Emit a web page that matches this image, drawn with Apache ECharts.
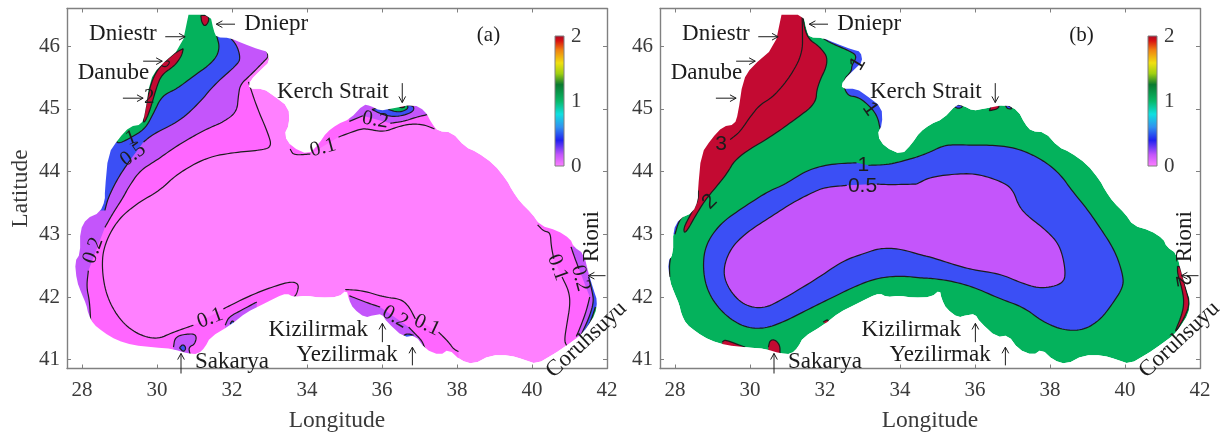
<!DOCTYPE html>
<html><head><meta charset="utf-8">
<style>html,body{margin:0;padding:0;background:#fff}#c{width:1220px;height:433px}</style>
<script src="https://cdn.jsdelivr.net/npm/echarts@6/dist/echarts.min.js"></script>
</head><body><div id="c"></div>
<script>
const xTicks=[28,30,32,34,36,38,40,42];
const yTicks=[41,42,43,44,45,46];
const barTicks=[0,1,2];
const barStops=[[0,'#ff80ff'],[0.18,'#c455fb'],[0.4,'#2020f0'],[0.6,'#3090f0'],[0.8,'#10e0e0'],[1.0,'#08b868'],[1.25,'#0a7a30'],[1.42,'#a0d010'],[1.58,'#f0e010'],[1.78,'#f08010'],[1.92,'#d81010'],[2,'#a80a28']];
const coast=[[30.84,46.5],[31.42,46.5],[31.51,46.25],[31.59,46.14],[31.95,46.13],[32.26,46.05],[32.75,45.94],[32.95,45.91],[33.0,45.75],[32.8,45.64],[32.48,45.45],[32.44,45.32],[32.84,45.32],[33.11,45.21],[33.51,45.03],[33.53,44.76],[33.39,44.58],[33.6,44.39],[34.04,44.27],[34.31,44.44],[34.53,44.63],[34.8,44.75],[35.15,44.84],[35.51,45.07],[35.69,45.05],[35.95,44.97],[36.22,45.0],[36.84,45.07],[37.15,44.97],[37.33,44.76],[37.51,44.64],[37.86,44.63],[38.22,44.39],[38.53,44.31],[38.98,44.12],[39.33,43.86],[39.47,43.7],[39.69,43.51],[40.0,43.33],[40.22,43.14],[40.67,43.06],[41.02,42.93],[41.11,42.8],[41.38,42.69],[41.51,42.37],[41.65,42.1],[41.74,41.94],[41.69,41.73],[41.47,41.52],[41.29,41.39],[40.93,41.23],[40.58,41.09],[40.13,40.93],[39.78,41.0],[39.42,41.07],[38.89,41.07],[38.44,40.93],[38.09,40.99],[37.78,41.17],[37.55,41.07],[37.15,41.17],[36.89,41.39],[36.58,41.36],[36.13,41.6],[36.0,41.73],[35.77,41.71],[35.55,41.67],[35.24,41.81],[35.11,41.97],[35.06,42.11],[34.84,42.0],[34.35,41.99],[33.99,42.02],[33.64,42.0],[33.46,42.06],[33.2,42.0],[32.75,41.86],[32.4,41.76],[31.95,41.55],[31.42,41.36],[31.28,41.2],[31.1,41.09],[30.79,41.1],[30.44,41.17],[29.9,41.2],[29.37,41.23],[28.93,41.31],[28.57,41.44],[28.3,41.57],[28.17,41.73],[28.11,41.89],[27.99,42.05],[27.86,42.26],[27.81,42.56],[27.95,42.69],[27.95,43.06],[28.12,43.25],[28.48,43.35],[28.61,43.54],[28.61,43.7],[28.7,44.28],[28.97,44.52],[29.28,44.72],[29.59,44.75],[29.68,44.92],[29.81,45.45],[30.04,45.67],[30.66,45.985]];

// panel (a) contours; null marks the gap left for a contour label
const a01West=[[32.44,45.43],[32.66,45.03],[32.97,44.6],[33.06,44.39],[32.75,44.34],[32.13,44.31],[31.33,44.23],[30.53,43.96],[30.08,43.7],[29.46,43.49],[28.93,43.22],[28.57,42.8],[28.53,42.42],[28.66,42.0],[29.01,41.63],[29.46,41.41],[29.99,41.32],[30.44,41.44],[30.97,41.55],null,[31.77,41.81],[32.4,42.0],[32.93,42.13],[33.55,42.25],[33.79,42.21],[33.73,42.05],[33.64,41.99]];
const a01South=[[35.02,42.12],[35.51,42.1],[36.04,42.0],[36.49,41.97],[36.71,41.86],[36.89,41.65],null,[37.51,41.44],[37.78,41.28],[37.91,41.17],[38.04,41.13]];
const a01East=[[40.15,43.15],[40.31,43.05],[40.49,43.03],[40.51,42.82],[40.58,42.61],null,[40.8,42.32],[40.98,42.1],[41.02,41.89],[40.93,41.57],[40.86,41.3],[40.93,41.22]];
const a01North=[[33.55,44.36],[33.64,44.26],[34.09,44.28],null,[34.84,44.55],[35.42,44.68],[35.6,44.68],[36.04,44.63],[36.4,44.71],[36.75,44.76],[37.11,44.75],[37.4,44.68]];
const a02West=[[32.93,45.92],[32.97,45.83],[32.84,45.75],[32.48,45.53],[32.22,45.39],[32.17,45.21],[32.13,44.95],[31.77,44.79],[31.33,44.68],[30.93,44.55],[30.48,44.39],[29.99,44.18],[29.55,44.02],[29.24,43.75],[29.1,43.59],[28.84,43.35],[28.61,43.11],null,[28.17,42.42],[28.12,42.16],[28.2,41.94],[28.23,41.63]];
const a02North=[[35.13,44.8],[35.49,44.89],null,[36.22,44.77],[36.58,44.8],[36.93,44.87],[37.22,44.91]];
const a02South=[[31.82,41.55],[31.91,41.68],[32.22,41.78],[32.66,41.92]];
const a02Sakarya=[[30.44,41.2],[30.48,41.36],[30.75,41.41],[31.06,41.41],[31.02,41.25],[30.84,41.2],[30.88,41.09]];
const a02Kizil=[[35.13,42.02],[35.55,41.92],[35.95,41.84],null,[36.71,41.52],[36.89,41.41],[37.07,41.3],[37.15,41.17]];
const a02East=[[41.04,42.8],[41.13,42.64],[41.25,42.45],null,[41.54,42.0],[41.45,41.78],[41.29,41.52],[41.18,41.37]];
const a05West=[[31.95,46.14],[32.13,46.01],[32.22,45.83],[32.17,45.72],[31.55,45.4],[31.15,45.11],[30.62,44.81],[29.9,44.6],[29.64,44.47],null,[29.28,44.18],[28.97,43.91],[28.7,43.59],[28.61,43.38]];
const a05Small=[[31.95,41.57],[32.01,41.63],[32.07,41.58]];
const a05Sakarya=[[30.6,41.19],[30.69,41.25],[30.78,41.19],[30.71,41.12],[30.6,41.19]];
const a05Kizil=[[36.53,41.36],[36.66,41.42],[36.84,41.39]];
const a05East=[[41.51,42.32],[41.6,42.1],[41.65,41.92],[41.51,41.65],[41.31,41.4]];
const a05Kerch=[[35.73,44.99],[36.04,44.9],[36.4,44.87],[36.86,44.95],[36.83,45.08],[36.0,45.03],[35.73,44.99]];
const a1West=[[31.59,46.17],[31.68,45.96],[31.51,45.75],[30.88,45.48],[30.53,45.32],[30.13,45.21],[29.9,44.92],[29.68,44.68],[29.33,44.55],[28.94,44.43],[28.9,44.55]];
const a1East=[[41.69,41.84],[41.56,41.6],[41.43,41.47]];
const a1Kerch=[[36.17,44.99],[36.44,44.94],[36.71,45.0],[36.66,45.08],[36.22,45.04],[36.17,44.99]];
const a2Coast=[[30.7,45.96],[30.66,45.85],[30.48,45.69],[30.13,45.55],[29.99,45.35],[29.81,44.97],[29.68,44.79],[29.62,44.79],[29.71,45.08],[29.86,45.45],[30.06,45.67],[30.44,45.88],[30.7,45.96]];
const a2Dniepr=[[31.17,46.49],[31.36,46.49],[31.39,46.4],[31.28,46.31],[31.19,46.38],[31.17,46.49]];
const a2Loop=[[30.11,45.73],[30.26,45.77],[30.35,45.75],[30.26,45.67],[30.13,45.68],[30.11,45.73]];
const a2Kerch=[[36.47,45.05],[36.6,45.05],[36.6,45.02],[36.47,45.02],[36.47,45.05]];

// panel (b) contours
const b1Ring=[[34.44,44.23],[34.8,44.31],[35.07,44.39],[35.33,44.43],[35.96,44.42],[36.58,44.42],[37.2,44.36],[37.82,44.18],[38.27,43.96],[38.58,43.7],[38.98,43.41],[39.33,43.11],[39.73,42.74],[39.94,42.37],[39.96,42.16],[39.64,41.87],[39.33,41.63],[38.89,41.47],[38.36,41.47],[37.82,41.6],[37.29,41.84],[36.67,41.97],[35.96,42.16],[35.33,42.26],[34.8,42.3],[34.62,42.3],[34.0,42.34],[33.38,42.3],[32.84,42.18],[32.22,42.0],[31.51,41.79],[30.89,41.6],[30.36,41.49],[29.82,41.52],[29.29,41.73],[28.89,42.05],[28.74,42.42],[28.8,42.82],[29.2,43.17],[29.82,43.43],[30.53,43.7],[30.89,43.78],[31.51,44.02],[32.13,44.12],[32.84,44.14],null,[33.16,44.1],[33.73,44.11],[34.44,44.23]];
const b05Core=[[34.44,43.8],[34.8,43.91],[35.42,43.96],[36.04,43.97],[36.76,43.83],[37.02,43.7],[37.16,43.46],[37.38,43.3],[37.91,43.06],[38.27,42.82],[38.42,42.42],[38.36,42.21],[37.78,42.13],[37.29,42.21],[36.67,42.37],[35.96,42.43],[35.42,42.52],[34.8,42.64],[34.62,42.66],[34.0,42.77],[33.47,42.78],[33.02,42.69],[32.49,42.58],[31.78,42.29],[30.89,41.97],[30.36,41.81],[29.82,41.87],[29.42,42.13],[29.27,42.42],[29.47,42.77],[29.91,43.03],[30.53,43.27],[31.15,43.51],[31.78,43.7],[32.04,43.75],[32.58,43.78],null,[33.38,43.8],[33.73,43.79],[34.44,43.8]];
const b2West=[[31.38,46.6],[31.49,46.14],[31.87,45.99],[32.12,45.77],[31.78,45.35],[31.76,45.08],[31.15,44.81],[30.62,44.58],[29.64,44.23],[29.38,43.96],[29.02,43.7],[28.8,43.54],[28.58,43.33],[28.27,43.0],[28.22,43.09],[28.4,43.3],[28.62,43.54],[28.62,43.7]];
const b3Inner=[[31.39,46.5],[31.4,46.25],[31.4,45.88],[31.07,45.51],[30.62,45.19],[30.27,45.07],[30.0,44.87],[29.73,44.63],[29.47,44.51]];
const b2Sakarya=[[30.49,41.2],[30.53,41.31],[30.67,41.32],[30.8,41.23],[30.8,41.09]];
const b2South=[[29.26,41.28],[29.33,41.32],[29.64,41.25],[29.87,41.2]];
const b2Spot=[[31.95,41.6],[32.09,41.65],[32.09,41.55]];
const b2East=[[41.4,42.49],[41.48,42.48],[41.63,42.1],[41.73,41.89],[41.57,41.65],[41.29,41.39],[41.51,41.7],[41.58,41.92],[41.51,42.16],[41.4,42.37],[41.4,42.49]];
const b2Kerch=[[36.38,44.97],[36.44,45.06],[36.65,45.07],[36.62,45.0],[36.38,44.97]];
const b05SpotA=[[35.44,45.04],[35.56,45.07],[35.69,45.04],[35.56,45.0],[35.44,45.04]];
const b05SpotB=[[36.8,45.07],[36.93,45.04],[37.0,45.0],[36.86,45.0],[36.8,45.07]];
const b05Crimea=[[31.96,46.12],[32.18,46.04],[32.67,45.92],[32.86,45.84],[32.71,45.69],[32.71,45.6],[32.47,45.45],[32.58,45.21],[32.89,45.19],[33.2,45.04],[33.4,44.88],[33.47,44.68]];
const b05WestA=[[27.88,42.62],[27.85,42.5],[27.86,42.32]];
const b05WestB=[[28.22,43.3],[28.09,43.19],[28.0,43.0]];

const PINK='#ff80ff',PINK2='#ff66ff',PURPLE='#c455fb',BLUE='#3b4ff5',GREEN='#04b25c',RED='#c30a32';
const W=27.6,E=42,S=40.86,N=46.6;
const layersA=[
 [a01West,[[33.64,S],[W,S],[W,N],[32.44,N]],PINK2],
 [a01South,[[38.04,S],[34.95,S]],PINK2],
 [a01East,[[E,S],[E,N],[40.15,N]],PINK2],
 [a01North,[[37.4,45.5],[33.55,45.5]],PINK2],
 [a02West,[[W,41.63],[W,N],[32.93,N]],PURPLE],
 [a02North,[[37.22,45.5],[35.13,45.5]],PURPLE],
 [a02South,[[32.66,41.5],[31.82,41.3]],PURPLE],
 [a02Sakarya,[[30.48,41.0],[30.44,41.1]],PURPLE],
 [a02Kizil,[[37.15,S],[35.13,S]],PURPLE],
 [a02East,[[E,41.37],[E,42.8]],PURPLE],
 [a05West,[[W,43.38],[W,N],[31.95,N]],BLUE],
 [a05Small,[[32.07,41.4],[31.95,41.4]],BLUE],
 [a05Sakarya,[],BLUE],
 [a05Kizil,[[36.84,41.2],[36.53,41.2]],BLUE],
 [a05East,[[E,41.4],[E,42.32]],BLUE],
 [a05Kerch,[],BLUE],
 [a1West,[[28.9,N],[31.59,N]],GREEN],
 [a1East,[[41.43,41.2],[E,41.2],[E,41.84]],GREEN],
 [a1Kerch,[],GREEN],
 [a2Coast,[],RED],
 [a2Dniepr,[],RED],
 [a2Loop,[],RED],
 [a2Kerch,[],RED]
];
const layersB=[
 [b05Crimea,[[33.8,44.68],[33.8,45.5],[33.3,46.0],[32.0,N]],BLUE],
 [b05WestA,[[W,42.32],[W,42.62]],BLUE],
 [b05WestB,[[27.7,43.0],[27.7,43.3]],BLUE],
 [b05SpotA,[],BLUE],
 [b05SpotB,[],BLUE],
 [b1Ring,[],BLUE],
 [b05Core,[],PURPLE],
 [b2West,[[28.4,43.85],[28.4,N]],RED],
 [b3Inner,[[29.47,44.51],[28.4,44.5],[28.4,N],[31.39,N]],RED],
 [b2Sakarya,[[30.5,41.0],[30.49,41.1]],RED],
 [b2South,[[29.87,41.0],[29.26,41.0]],RED],
 [b2Spot,[],RED],
 [b2East,[],RED],
 [b2Kerch,[],RED]
];
const riverLabels=[["Dniepr",33.18,46.36,0],["Dniestr",29.09,46.19,0],["Danube",28.84,45.58,0],["Kerch Strait",34.69,45.27,0],["Sakarya",32.0,40.97,0],["Kizilirmak",34.3,41.47,0],["Yezilirmak",35.07,41.07,0],["Rioni",41.61,42.96,90],["Coruhsuyu",41.45,41.32,43]];
const riverArrows=[[32.08,46.35,31.58,46.35],[30.22,46.15,30.75,46.15],[29.63,45.76,30.14,45.76],[29.09,45.17,29.63,45.17],[36.54,45.41,36.54,45.10],[30.64,40.78,30.64,41.10],[36.01,41.28,36.01,41.58],[36.81,40.91,36.81,41.2],[41.96,42.34,41.5,42.34]];
const labelsA=[["(a)",38.84,46.17,0],["1",29.31,44.53,20],["0.5",29.36,44.27,35],["2",29.79,45.18,0],["0.1",34.43,44.38,15],["0.2",35.82,44.82,-10],["0.2",28.3,42.74,70],["0.1",31.42,41.66,20],["0.2",36.35,41.68,-30],["0.1",37.2,41.55,-25],["0.1",40.68,42.47,-70],["0.2",41.29,42.3,-75]];
const labelsB=[["3",29.23,44.43,0],["2",28.93,43.52,45],["1",33.02,44.1,0],["0.5",33.0,43.76,0],["2",41.53,42.26,-80],["1",32.88,45.72,60],["1",33.2,45.0,-55]];

const FRAME='#808080',TXT='#3a3a3a',INK='#1c1c1c',SERIF='"Liberation Serif"',SANS='"Liberation Sans"';
// display-only rounding of drawn outlines; endpoints stay where they were read
function round(pts,n){
 let out=pts;
 for(let k=0;k<n;k++){
  if(out.length<3)break;
  const next=[out[0]];
  for(let i=0;i<out.length-1;i++){
   const a=out[i],b=out[i+1];
   next.push([a[0]*.75+b[0]*.25,a[1]*.75+b[1]*.25],[a[0]*.25+b[0]*.75,a[1]*.25+b[1]*.75]);
  }
  next.push(out[out.length-1]);
  out=next;
 }
 return out;
}
const coastDrawn=round(coast.concat([coast[0]]),1);
function polygonSeries(line,closure,color,xi,yi,z){
 const pts=line.filter(Boolean);
 const pieces=[];let cur=[];
 line.forEach(p=>{if(p)cur.push(p);else{pieces.push(cur);cur=[];}});
 pieces.push(cur);
 const drawn=pieces.map(s=>round(s,3));
 const fill=[].concat(...drawn,closure);
 return {type:'custom',coordinateSystem:'cartesian2d',xAxisIndex:xi,yAxisIndex:yi,z,clip:false,silent:true,data:pts,encode:{x:0,y:1},
  renderItem(params,api){
   if(params.dataIndex!==0)return null;
   const children=[{type:'polygon',shape:{points:fill.map(p=>api.coord(p))},style:{fill:color}}];
   drawn.forEach(s=>children.push({type:'polyline',shape:{points:s.map(p=>api.coord(p))},style:{fill:null,stroke:INK,lineWidth:1.2}}));
   return {type:'group',children};
  }};
}
function baseSeries(color,xi,yi,z){
 return {type:'custom',coordinateSystem:'cartesian2d',xAxisIndex:xi,yAxisIndex:yi,z,clip:false,silent:true,data:coast,encode:{x:0,y:1},
  renderItem(params,api){
   if(params.dataIndex!==0)return null;
   return {type:'polygon',shape:{points:coastDrawn.map(p=>api.coord(p))},style:{fill:color}};
  }};
}
function maskSeries(xi,yi,z){
 return {type:'custom',coordinateSystem:'cartesian2d',xAxisIndex:xi,yAxisIndex:yi,z,clip:false,silent:true,data:coast,encode:{x:0,y:1},
  renderItem(params,api){
   if(params.dataIndex!==0)return null;
   const ring=[[W,N],[W,S],[E,S],[E,N],[W,N]].concat(coastDrawn,[[W,N]]);
   return {type:'polygon',shape:{points:ring.map(p=>api.coord(p))},style:{fill:'#fff'}};
  }};
}
function textSeries(rows,family,size,xi,yi,z){
 return {type:'custom',coordinateSystem:'cartesian2d',xAxisIndex:xi,yAxisIndex:yi,z,clip:false,silent:true,data:rows.map(r=>[r[1],r[2]]),encode:{x:0,y:1},
  renderItem(params,api){
   const r=rows[params.dataIndex],c=api.coord([r[1],r[2]]);
   return {type:'text',x:c[0],y:c[1],rotation:r[3]*Math.PI/180,style:{text:r[0],x:0,y:0,align:'center',verticalAlign:'middle',fill:INK,font:size+'px '+family}};
  }};
}
function arrowSeries(xi,yi,z){
 return {type:'custom',coordinateSystem:'cartesian2d',xAxisIndex:xi,yAxisIndex:yi,z,clip:false,silent:true,data:riverArrows.map(r=>[r[2],r[3]]),encode:{x:0,y:1},
  renderItem(params,api){
   const r=riverArrows[params.dataIndex],a=api.coord([r[0],r[1]]),b=api.coord([r[2],r[3]]);
   const t=Math.atan2(b[1]-a[1],b[0]-a[0]),h=7,s=0.5;
   const p1=[b[0]-h*Math.cos(t-s),b[1]-h*Math.sin(t-s)],p2=[b[0]-h*Math.cos(t+s),b[1]-h*Math.sin(t+s)];
   const st={fill:null,stroke:INK,lineWidth:1};
   return {type:'group',children:[{type:'polyline',shape:{points:[a,b]},style:st},{type:'polyline',shape:{points:[p1,b,p2]},style:st}]};
  }};
}
function barSeries(xi,yi,z){
 return {type:'custom',coordinateSystem:'cartesian2d',xAxisIndex:xi,yAxisIndex:yi,z,silent:true,data:[[0,0],[1,2]],encode:{x:0,y:1},
  renderItem(params,api){
   if(params.dataIndex!==0)return null;
   const a=api.coord([0,2]),b=api.coord([1,0]);
   return {type:'rect',shape:{x:a[0],y:a[1],width:b[0]-a[0],height:b[1]-a[1]},style:{stroke:FRAME,lineWidth:1,
     fill:new echarts.graphic.LinearGradient(0,1,0,0,barStops.map(s=>({offset:s[0]/2,color:s[1]})))}};
  }};
}
function panelAxes(grid,showName){
 const line={show:true,onZero:false,lineStyle:{color:FRAME,width:1.4}};
 const tick=v=>({show:true,inside:true,length:4,lineStyle:{color:FRAME,width:1},customValues:v});
 const lab={color:TXT,fontFamily:SERIF,fontSize:21};
 const x=[{type:'value',gridIndex:grid,min:W,max:E,position:'bottom',z:60,axisLine:line,axisTick:tick(xTicks),splitLine:{show:false},
   axisLabel:{...lab,margin:11,customValues:xTicks},name:'Longitude',nameLocation:'middle',nameGap:40,nameTextStyle:{...lab,fontSize:23.5}},
  {type:'value',gridIndex:grid,min:W,max:E,position:'top',z:60,axisLine:line,axisTick:tick(xTicks),axisLabel:{show:false},splitLine:{show:false}}];
 const y=[{type:'value',gridIndex:grid,min:S,max:N,position:'left',z:60,axisLine:line,axisTick:tick(yTicks),splitLine:{show:false},
   axisLabel:{...lab,margin:7,customValues:yTicks},name:showName?'Latitude':'',nameLocation:'middle',nameGap:34,nameTextStyle:{...lab,fontSize:23.5}},
  {type:'value',gridIndex:grid,min:S,max:N,position:'right',z:60,axisLine:line,axisTick:tick(yTicks),axisLabel:{show:false},splitLine:{show:false}}];
 return {x,y};
}
function barAxes(grid){
 return {x:{type:'value',gridIndex:grid,min:0,max:1,show:false},
  y:{type:'value',gridIndex:grid,min:0,max:2,interval:1,position:'right',z:60,axisLine:{show:false},axisTick:{show:false},splitLine:{show:false},
   axisLabel:{color:TXT,fontFamily:SERIF,fontSize:21,margin:7,customValues:barTicks}}};
}
const pa=panelAxes(0,true),pb=panelAxes(1,false),ba=barAxes(2),bb=barAxes(3);
const series=[];
function buildPanel(layers,labels,family,xi,yi,base){
 let z=3;
 series.push(baseSeries(base,xi,yi,z++));
 layers.forEach(l=>series.push(polygonSeries(l[0],l[1],l[2],xi,yi,z++)));
 series.push(maskSeries(xi,yi,50));
 series.push(arrowSeries(xi,yi,70));
 series.push(textSeries(riverLabels,SERIF,23,xi,yi,70));
 series.push(textSeries(labels,family,21,xi,yi,70));
}
buildPanel(layersA,labelsA,SERIF,0,0,PINK);
buildPanel(layersB,labelsB,SANS,2,2,GREEN);
series.push(textSeries([["(b)",38.84,46.17,0]],SERIF,21,2,2,70));
series.push(barSeries(4,4,70));
series.push(barSeries(5,5,70));
const chart=echarts.init(document.getElementById('c'),null,{renderer:'canvas'});
const gridBase={outerBoundsMode:'none',containLabel:false};
chart.setOption({animation:false,backgroundColor:'#fff',
 grid:[{...gridBase,left:67,top:8.5,width:540,height:360},{...gridBase,left:660,top:8.5,width:540,height:360},{...gridBase,left:555,top:36,width:9,height:130},{...gridBase,left:1148,top:36,width:9,height:130}],
 xAxis:[...pa.x,...pb.x,ba.x,bb.x],
 yAxis:[...pa.y,...pb.y,ba.y,bb.y],
 series});
</script></body></html>
